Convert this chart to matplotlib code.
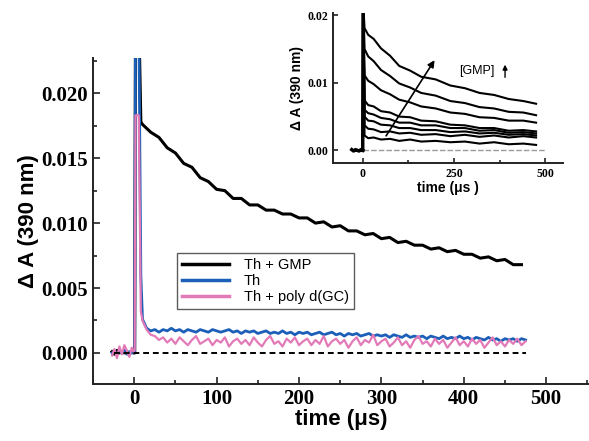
"""Transient absorption at 390 nm: Th alone, with GMP and with poly d(GC)."""

import matplotlib

matplotlib.use("Agg")
import matplotlib.pyplot as plt
import numpy as np
from matplotlib.ticker import FormatStrFormatter, MultipleLocator

TICK_FONT = "Liberation Serif"
LABEL_FONT = "Liberation Sans"

# ---- main panel data -------------------------------------------------------
t_pre = [-27, -24, -21, -18, -15, -12, -9, -6, -3, -1]
t_flash = [0.5, 1.5, 5.5, 8]
t_fine = np.arange(10, 480, 5)     # 5 us sampling after the flash
t_coarse = np.arange(10, 480, 10)  # 10 us sampling for the GMP trace

gmp_pre = [0.0001, -0.0001, 0.0002, 0.0000, 0.0001, 0.0000, 0.0001, -0.0001, 0.0001, 0.0000]
gmp_flash = [0.0000, 0.0260, 0.0260, 0.0178]
gmp_decay = [
    0.0176, 0.0170, 0.0166, 0.0158, 0.0154, 0.0146, 0.0143, 0.0135, 0.0132, 0.0126,
    0.0125, 0.0119, 0.0119, 0.0114, 0.0114, 0.0110, 0.0110, 0.0107, 0.0107, 0.0104,
    0.0104, 0.0100, 0.0101, 0.0097, 0.0098, 0.0094, 0.0094, 0.0091, 0.0092, 0.0088,
    0.0089, 0.0085, 0.0086, 0.0083, 0.0083, 0.0080, 0.0081, 0.0078, 0.0079, 0.0076,
    0.0076, 0.0073, 0.0074, 0.0071, 0.0072, 0.0068, 0.0068,
]

th_pre = [0.0000, 0.0001, -0.0001, 0.0001, 0.0000, 0.0002, -0.0001, 0.0001, 0.0000, 0.0001]
th_flash = [0.0000, 0.0260, 0.0260, 0.0060]
th_decay = [
    0.0026, 0.0019, 0.0017, 0.0018, 0.0016, 0.0018, 0.0017, 0.0019, 0.0017, 0.0018,
    0.0016, 0.0018, 0.0017, 0.0016, 0.0018, 0.0017, 0.0016, 0.0018, 0.0017, 0.0016,
    0.0017, 0.0018, 0.0016, 0.0017, 0.0015, 0.0017, 0.0016, 0.0017, 0.0015, 0.0016,
    0.0017, 0.0015, 0.0016, 0.0015, 0.0017, 0.0015, 0.0016, 0.0014, 0.0016, 0.0015,
    0.0016, 0.0014, 0.0015, 0.0016, 0.0014, 0.0015, 0.0016, 0.0014, 0.0015, 0.0013,
    0.0015, 0.0014, 0.0015, 0.0013, 0.0014, 0.0015, 0.0013, 0.0014, 0.0013, 0.0014,
    0.0012, 0.0014, 0.0013, 0.0012, 0.0014, 0.0012, 0.0013, 0.0012, 0.0013, 0.0011,
    0.0013, 0.0012, 0.0011, 0.0013, 0.0011, 0.0012, 0.0011, 0.0013, 0.0011, 0.0012,
    0.0010, 0.0012, 0.0011, 0.0010, 0.0012, 0.0010, 0.0011, 0.0009, 0.0011, 0.0010,
    0.0011, 0.0009, 0.0011, 0.0010,
]

gc_pre = [-0.0002, 0.0003, -0.0004, 0.0005, -0.0001, 0.0006, 0.0002, -0.0003, 0.0004, 0.0001]
gc_flash = [0.0002, 0.0183, 0.0183, 0.0032]
gc_decay = [
    0.0025, 0.0018, 0.0014, 0.0013, 0.0010, 0.0012, 0.0008, 0.0011, 0.0007, 0.0012,
    0.0009, 0.0006, 0.0010, 0.0013, 0.0007, 0.0009, 0.0011, 0.0006, 0.0010, 0.0008,
    0.0012, 0.0005, 0.0009, 0.0011, 0.0007, 0.0010, 0.0006, 0.0012, 0.0008, 0.0005,
    0.0010, 0.0013, 0.0007, 0.0009, 0.0005, 0.0011, 0.0008, 0.0012, 0.0006, 0.0009,
    0.0011, 0.0006, 0.0010, 0.0007, 0.0013, 0.0005, 0.0009, 0.0011, 0.0007, 0.0010,
    0.0004, 0.0009, 0.0012, 0.0006, 0.0010, 0.0008, 0.0014, 0.0006, 0.0009, 0.0011,
    0.0005, 0.0008, 0.0012, 0.0006, 0.0009, 0.0004, 0.0010, 0.0013, 0.0007, 0.0009,
    0.0005, 0.0011, 0.0007, 0.0010, 0.0004, 0.0008, 0.0012, 0.0006, 0.0009, 0.0005,
    0.0011, 0.0007, 0.0010, 0.0004, 0.0008, 0.0012, 0.0006, 0.0009, 0.0005, 0.0010,
    0.0007, 0.0011, 0.0006, 0.0009,
]

SERIES_LABELS = ["Th + GMP", "Th", "Th + poly d(GC)"]

# ---- inset data: increasing [GMP] ------------------------------------------
t_inset = [5, 15, 30, 50, 75, 100, 130, 160, 200, 240, 280, 320, 360, 400, 440, 475]
inset_pre_t = [-30, -25, -20, -15, -10, -5, 0]
inset_pre_y = [0.0001, -0.0001, 0.0001, 0.0000, -0.0001, 0.0001, 0.0000]
gmp_1 = [0.0181, 0.0171, 0.0165, 0.0151, 0.0140, 0.0125, 0.0118, 0.0109, 0.0105, 0.0096, 0.0092, 0.0085, 0.0082, 0.0076, 0.0073, 0.0069]
gmp_2 = [0.0150, 0.0139, 0.0132, 0.0119, 0.0110, 0.0099, 0.0093, 0.0085, 0.0081, 0.0073, 0.0070, 0.0064, 0.0062, 0.0057, 0.0056, 0.0052]
gmp_3 = [0.0111, 0.0103, 0.0098, 0.0089, 0.0083, 0.0075, 0.0071, 0.0065, 0.0062, 0.0056, 0.0054, 0.0049, 0.0048, 0.0044, 0.0044, 0.0041]
gmp_4 = [0.0074, 0.0067, 0.0065, 0.0058, 0.0056, 0.0050, 0.0049, 0.0044, 0.0043, 0.0038, 0.0037, 0.0033, 0.0033, 0.0029, 0.0030, 0.0028]
gmp_5 = [0.0060, 0.0055, 0.0053, 0.0048, 0.0046, 0.0041, 0.0041, 0.0037, 0.0037, 0.0033, 0.0033, 0.0029, 0.0030, 0.0026, 0.0027, 0.0025]
gmp_6 = [0.0050, 0.0044, 0.0043, 0.0038, 0.0037, 0.0033, 0.0033, 0.0030, 0.0030, 0.0027, 0.0028, 0.0025, 0.0026, 0.0023, 0.0024, 0.0022]
gmp_7 = [0.0037, 0.0032, 0.0031, 0.0027, 0.0028, 0.0025, 0.0026, 0.0023, 0.0024, 0.0021, 0.0023, 0.0020, 0.0022, 0.0019, 0.0021, 0.0019]
gmp_8 = [0.0022, 0.0018, 0.0019, 0.0016, 0.0017, 0.0014, 0.0016, 0.0013, 0.0014, 0.0012, 0.0013, 0.0010, 0.0012, 0.0009, 0.0010, 0.0008]


def style_axis(ax, tick_size, major, minor_len):
    for side in ("top", "right"):
        ax.spines[side].set_visible(False)
    for side in ("left", "bottom"):
        ax.spines[side].set_linewidth(1.4)
        ax.spines[side].set_color("#222222")
    ax.tick_params(which="both", direction="in", width=1.2, colors="#222222")
    ax.tick_params(which="major", length=major)
    ax.tick_params(which="minor", length=minor_len)
    for lab in ax.get_xticklabels() + ax.get_yticklabels():
        lab.set_fontfamily(TICK_FONT)
        lab.set_fontweight("bold")
        lab.set_fontsize(tick_size)
        lab.set_color("black")


def main() -> None:
    fig = plt.figure(figsize=(5.89, 4.41), dpi=100)
    ax = fig.add_axes([0.158, 0.129, 0.842, 0.739])

    colors = ["black", "#1c5fb8", "#e37ab8"]
    traces = [
        (t_pre + t_flash + list(t_coarse), gmp_pre + gmp_flash + gmp_decay, 2.2),
        (t_pre + t_flash + list(t_fine), th_pre + th_flash + th_decay, 2.0),
        (t_pre + t_flash + list(t_fine), gc_pre + gc_flash + gc_decay, 1.6),
    ]
    for (tt, yy, lw), color, label in zip(traces, colors, SERIES_LABELS):
        ax.plot(tt, yy, color=color, lw=lw, label=label)
    ax.plot([-25, 475], [0, 0], color="black", lw=1.4, ls=(0, (3, 2)))

    ax.set_xlim(-50, 552)
    ax.set_ylim(-0.0024, 0.0227)
    ax.xaxis.set_major_locator(MultipleLocator(100))
    ax.xaxis.set_minor_locator(MultipleLocator(50))
    ax.yaxis.set_major_locator(MultipleLocator(0.005))
    ax.yaxis.set_minor_locator(MultipleLocator(0.0025))
    ax.yaxis.set_major_formatter(FormatStrFormatter("%.3f"))
    style_axis(ax, 15, 5, 3)
    ax.set_xlabel("time (μs)", fontfamily=LABEL_FONT, fontweight="bold", fontsize=16, labelpad=0)
    ax.set_ylabel("Δ A (390 nm)", fontfamily=LABEL_FONT, fontweight="bold", fontsize=16, labelpad=2)

    leg = ax.legend(
        loc="lower left", bbox_to_anchor=(0.17, 0.23), frameon=True, fancybox=False,
        prop={"family": LABEL_FONT, "size": 10.5}, handlelength=3.2, borderpad=0.35,
        labelspacing=0.15, handletextpad=1.0, borderaxespad=0,
    )
    leg.get_frame().set_edgecolor("#333333")
    leg.get_frame().set_linewidth(1.0)
    for line in leg.get_lines():
        line.set_linewidth(2.5)

    # inset
    ins = fig.add_axes([0.565, 0.630, 0.391, 0.340])
    ins.plot([0, 500], [0, 0], color="#9a9a9a", lw=1.0, ls=(0, (4, 1.5)))
    ins.plot(inset_pre_t, inset_pre_y, color="black", lw=2.5)
    ins.plot([0, 1, 3], [0, 0.021, 0.021], color="black", lw=2.5)
    for curve in (gmp_1, gmp_2, gmp_3, gmp_4, gmp_5, gmp_6, gmp_7, gmp_8):
        ins.plot([2] + t_inset, [0.021] + curve, color="black", lw=1.5)
    ins.annotate("", xy=(201, 0.0137), xytext=(60, 0.0018),
                 arrowprops=dict(arrowstyle="-|>", color="black", lw=1.2, mutation_scale=10))
    ins.text(265, 0.0118, "[GMP]", fontfamily=LABEL_FONT, fontsize=9, ha="left", va="center")
    ins.annotate("", xy=(390, 0.0131), xytext=(390, 0.0104),
                 arrowprops=dict(arrowstyle="-|>", color="black", lw=1.0, mutation_scale=7))

    ins.set_xlim(-82, 549)
    ins.set_ylim(-0.0019, 0.0203)
    ins.xaxis.set_major_locator(MultipleLocator(250))
    ins.xaxis.set_minor_locator(MultipleLocator(125))
    ins.yaxis.set_major_locator(MultipleLocator(0.01))
    ins.yaxis.set_major_formatter(FormatStrFormatter("%.2f"))
    style_axis(ins, 8.5, 3.5, 2)
    ins.set_xlabel("time (μs )", fontfamily=LABEL_FONT, fontweight="bold", fontsize=10, labelpad=1)
    ins.set_ylabel("Δ A (390 nm)", fontfamily=LABEL_FONT, fontweight="bold", fontsize=10, labelpad=2)

    fig.savefig("out.png", dpi=100)
    plt.close(fig)


if __name__ == "__main__":
    main()
